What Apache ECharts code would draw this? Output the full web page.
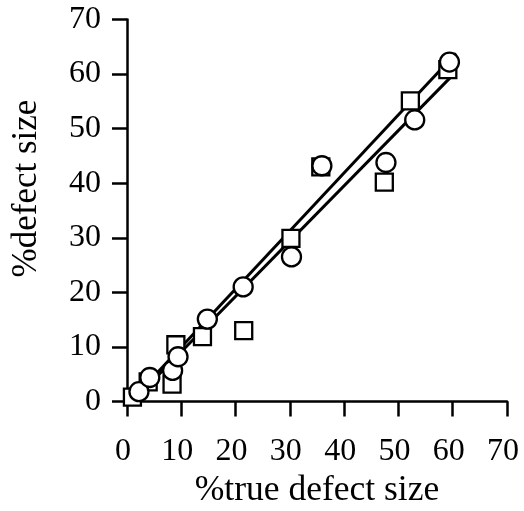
<!DOCTYPE html>
<html>
<head>
<meta charset="utf-8">
<script src="https://cdn.jsdelivr.net/npm/echarts@6/dist/echarts.min.js"></script>
<style>html,body{margin:0;padding:0;background:#fff}#c{width:524px;height:511px}</style>
</head>
<body>
<div id="c"></div>
<script>
// Data
const xTicks = [0, 10, 20, 30, 40, 50, 60, 70];
const yTicks = [0, 10, 20, 30, 40, 50, 60, 70];
const squarePts = [
  [1.0, 0.8], [3.9, 3.6], [8.3, 3.2], [9.0, 10.4], [13.9, 11.9], [21.5, 13.0],
  [30.2, 29.9], [35.7, 43.0], [47.4, 40.2], [52.2, 55.1], [59.1, 60.8]
];
const circlePts = [
  [2.2, 1.8], [4.2, 4.4], [8.4, 5.7], [9.4, 8.2], [14.8, 15.1], [21.4, 21.0],
  [30.3, 26.5], [35.9, 43.2], [47.7, 43.8], [53.0, 51.6], [59.4, 62.2]
];
const fitLineA = [[1.0, 0.4], [60.6, 63.8]];
const fitLineB = [[1.0, 0.0], [60.0, 59.8]];
const xName = '%true defect size';
const yName = '%defect size';

const font = 'Liberation Serif';
const chart = echarts.init(document.getElementById('c'), null, {renderer: 'canvas'});
const axisCommon = {
  min: 0, max: 70, interval: 10,
  splitLine: {show: false},
  axisLine: {show: true, onZero: false, lineStyle: {color: '#000', width: 2.5}},
  axisTick: {show: true, length: 15, lineStyle: {color: '#000', width: 2.5}},
  nameLocation: 'middle'
};
chart.setOption({
  animation: false,
  backgroundColor: '#fff',
  grid: {left: 127, right: 17, top: 19.5, bottom: 109.5, containLabel: false, outerBoundsMode: 'none'},
  xAxis: Object.assign({}, axisCommon, {
    type: 'value',
    name: xName,
    nameGap: 67,
    nameTextStyle: {fontFamily: font, fontSize: 35.5, color: '#000'},
    axisLabel: {
      fontFamily: font, fontSize: 32, color: '#000', margin: 34,
      padding: [0, 8, 0, 0],
      formatter: v => xTicks.includes(v) ? String(v) : ''
    }
  }),
  yAxis: Object.assign({}, axisCommon, {
    type: 'value',
    name: yName,
    nameGap: 83,
    nameTextStyle: {fontFamily: font, fontSize: 35, color: '#000', padding: [0, 0, 0, 44]},
    axisLabel: {
      fontFamily: font, fontSize: 32, color: '#000', margin: 26,
      formatter: v => yTicks.includes(v) ? String(v) : ''
    }
  }),
  series: [
    {
      type: 'line', data: fitLineA, symbol: 'none', z: 1,
      lineStyle: {color: '#000', width: 3}
    },
    {
      type: 'line', data: fitLineB, symbol: 'none', z: 1,
      lineStyle: {color: '#000', width: 3}
    },
    {
      type: 'scatter', data: squarePts, symbol: 'rect', symbolSize: 17, z: 3,
      itemStyle: {color: '#fff', borderColor: '#000', borderWidth: 2.3, opacity: 1}
    },
    {
      type: 'scatter', data: circlePts, symbol: 'circle', symbolSize: 19, z: 4,
      itemStyle: {color: '#fff', borderColor: '#000', borderWidth: 2.3, opacity: 1}
    }
  ]
});
</script>
</body>
</html>
